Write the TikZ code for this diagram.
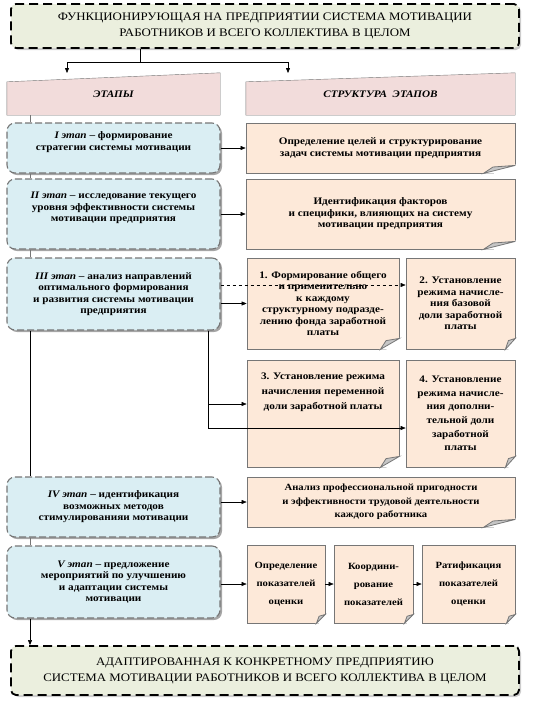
\documentclass[tikz,border=0pt]{standalone}
\usepackage{fontspec}
\setmainfont[FakeStretch=1.12]{Liberation Serif}
\usepackage{tikz}
\usetikzlibrary{shapes}
\usetikzlibrary{arrows.meta}
\usetikzlibrary{shadows}
\usetikzlibrary{backgrounds}
\definecolor{titlefill}{RGB}{235,239,222}
\definecolor{headfill}{RGB}{242,220,219}
\definecolor{stagefill}{RGB}{218,238,243}
\definecolor{notefill}{RGB}{253,233,217}
\definecolor{edgegray}{RGB}{118,118,118}
\tikzset{titlebox/.style={draw, line width=1.8pt, dash pattern=on 9pt off 5pt,
    rounded corners=5pt, fill=titlefill, minimum width=508pt, align=center,
    drop shadow={shadow xshift=2pt, shadow yshift=-2pt, fill=gray!80},
    font=\fontsize{11.5}{16}\selectfont}}
\tikzset{headbox/.style={minimum width=213pt, minimum height=42pt,
    font=\fontsize{10}{12}\selectfont\bfseries\itshape}}
\tikzset{stagebox/.style={draw=edgegray, line width=1.1pt, dash pattern=on 7pt off 3pt,
    rounded corners=8pt, fill=stagefill, minimum width=213pt, align=center,
    drop shadow={shadow xshift=2pt, shadow yshift=-2pt, fill=black!70},
    font=\fontsize{10}{11.5}\selectfont\bfseries}}
\tikzset{notebox/.style={draw=edgegray, line width=.8pt, fill=notefill, align=center,
    font=\fontsize{10}{11.5}\selectfont\bfseries}}
\tikzset{conn/.style={-{Triangle[length=5pt,width=4pt]}, thin}}
\tikzset{%
  apply style/.code={%
    \tikzset{#1}%
  }
}

\begin{document}
\begin{tikzpicture}[x=1pt,y=-1pt]
  \useasboundingbox (0,0) rectangle (546,702);
  % title and result
  \node[titlebox, minimum height=44pt] (t1) at (265,26)
    {ФУНКЦИОНИРУЮЩАЯ НА ПРЕДПРИЯТИИ СИСТЕМА МОТИВАЦИИ\\РАБОТНИКОВ И ВСЕГО КОЛЛЕКТИВА В ЦЕЛОМ};
  \node[titlebox, minimum height=49pt] (t2) at (265,670.5)
    {АДАПТИРОВАННАЯ К КОНКРЕТНОМУ ПРЕДПРИЯТИЮ\\СИСТЕМА МОТИВАЦИИ РАБОТНИКОВ И ВСЕГО КОЛЛЕКТИВА В ЦЕЛОМ};

  % headers
  \node[headbox] (h1) at (113.5,94) {ЭТАПЫ};
  \node[headbox, minimum width=269pt] (h2) at (380.5,94) {СТРУКТУРА\ \ ЭТАПОВ};
  \begin{scope}[on background layer]
    \foreach \h in {h1,h2} {
      \draw[edgegray, fill=headfill, thin] ([yshift=-9pt]\h.north west) -- (\h.north east)
        -- (\h.south east) -- (\h.south west) -- cycle;
    }
  \end{scope}

  % stages
  \foreach \y/\hgt/\lab/\txt in {
    148/50/s1/{\textit{I этап} – формирование\\стратегии системы мотивации\\[2.5pt]},
    214/70/s2/{\textit{II этап} – исследование текущего\\уровня эффективности системы\\мотивации предприятия\\[2.5pt]},
    294/72/s3/{\textit{III этап} – анализ направлений\\оптимального формирования\\и развития системы мотивации\\предприятия},
    507/60/s4/{\textit{IV этап} – идентификация\\возможных методов\\стимулированияи мотивации},
    582/72/s5/{\textit{V этап} – предложение\\мероприятий по улучшению\\и адаптации системы\\мотивации}%
  } {
    \node[stagebox, minimum height=\hgt pt] (\lab) at (113.5,\y) {\txt};
  }

  % structure of the stages
  \foreach \x/\y/\bw/\hgt/\lab/\sty/\txt in {
    380.5/148/269/50/r1/{}/{Определение целей и структурирование\\задач системы мотивации предприятия},
    380.5/214/269/70/r2/{}/{Идентификация факторов\\и специфики, влияющих на систему\\мотивации предприятия},
    323/303.5/152/91/r3/{}/{1. Формирование общего\\и применительно\\к каждому\\структурному подразде-\\лению фонда заработной\\платы},
    460.5/303.5/109/91/r4/{}/{2. Установление\\режима начисле-\\ния базовой\\доли заработной\\платы},
    323/413.5/152/107/r5/{font=\fontsize{10}{15}\selectfont\bfseries}/{3. Установление режима\\начисления переменной\\доли заработной платы\\[30pt]},
    460.5/413.5/109/107/r6/{font=\fontsize{10}{13.7}\selectfont\bfseries}/{4. Установление\\режима начисле-\\ния дополни-\\тельной доли\\заработной\\платы},
    381/502/268/50/r7/{font=\fontsize{9.5}{13.3}\selectfont\bfseries}/{Анализ профессиональной пригодности\\и эффективности трудовой деятельности\\каждого работника},
    286/584/78/78/r8/{font=\fontsize{9.5}{18}\selectfont\bfseries}/{Определение\\показателей\\оценки},
    373.5/584/79/78/r9/{font=\fontsize{9.5}{18}\selectfont\bfseries}/{Координи-\\рование\\показателей},
    468.5/584/93/78/r10/{font=\fontsize{9.5}{18}\selectfont\bfseries}/{Ратификация\\показателей\\оценки}%
  } {
    \node[notebox, minimum width=\bw pt, minimum height=\hgt pt,
      apply style/.expand once=\sty] (\lab) at (\x,\y) {\txt};
  }

  % folded corners
  \foreach \n/\fw/\fh in {r1/32/8, r2/32/8, r3/19/11, r4/10/11, r5/19/11,
    r6/10/11, r7/32/8, r8/9/9, r9/9/9, r10/9/9} {
    \fill[white] ([xshift=-\fw pt-1pt]\n.south east) -- ([xshift=1pt,yshift=-1pt]\n.south east)
      -- ([xshift=1pt,yshift=\fh pt+1pt]\n.south east) -- cycle;
    \draw[edgegray, line width=.8pt, fill=gray!45] ([xshift=-\fw pt]\n.south east)
      -- ([xshift=-.7*\fw pt,yshift=.8*\fh pt]\n.south east)
      -- ([yshift=\fh pt]\n.south east) -- cycle;
  }

  % top split
  \coordinate (split) at (140,62);
  \coordinate (a1) at (67,73);
  \coordinate (a2) at (288,73);
  \draw[thin] (t1.south -| split) -- (split);
  \draw[conn] (split) -| (a1);
  \draw[conn] (split) -| (a2);

  % left spine
  \coordinate (spine) at (30,0);
  \foreach \u/\v/\col in {h1/s1/edgegray, s1/s2/edgegray, s2/s3/edgegray,
    s3/s4/black, s4/s5/edgegray} {
    \draw[\col, thin] (\u.south -| spine) -- (\v.north -| spine);
  }
  \draw[conn] (s5.south -| spine) -- (t2.north -| spine);

  % stages to structure
  \foreach \u/\v in {s1/r1, s2/r2, r8/r9, r9/r10} {
    \draw[conn] (\u) -- (\v);
  }
  \foreach \u/\v in {s3/r3, s4/r7, s5/r8} {
    \draw[conn] (\u.east |- \v.west) -- (\v.west);
  }
  \draw[conn, dashed] ([yshift=9pt]s3.east) -- ([yshift=9pt]s3.east -| r4.west);
  \coordinate (drop) at ([xshift=95pt]s3.south);
  \draw[conn] (drop) |- ([yshift=9.5pt]r5.west);
  \draw[conn] (drop) |- ([yshift=-14.5pt]r6.west);
\end{tikzpicture}
\end{document}
